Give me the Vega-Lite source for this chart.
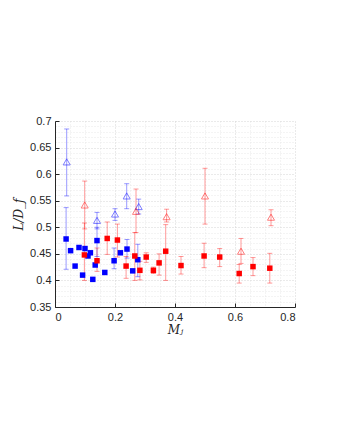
{
  "$schema": "https://vega.github.io/schema/vega-lite/v6.json",
  "width": 240,
  "height": 186,
  "autosize": "none",
  "padding": {"left": 55, "top": 121, "right": 44, "bottom": 132},
  "background": "white",
  "config": {
    "view": {"stroke": null},
    "axis": {
      "domainColor": "#262626",
      "domainWidth": 1,
      "tickColor": "#262626",
      "labelColor": "#262626",
      "labelFont": "Liberation Sans",
      "labelFontSize": 11,
      "titleFont": "DejaVu Serif",
      "titleFontStyle": "italic",
      "titleFontWeight": "normal",
      "titleFontSize": 12,
      "titleColor": "#262626",
      "gridDash": [1, 2],
      "labelOverlap": false
    }
  },
  "data": {
    "values": [
      {"group": "blue", "kind": "square", "x": 0.037, "y": 0.478, "lo": 0.421, "hi": 0.537},
      {"group": "blue", "kind": "square", "x": 0.052, "y": 0.456, "lo": null, "hi": null},
      {"group": "blue", "kind": "square", "x": 0.067, "y": 0.427, "lo": null, "hi": null},
      {"group": "blue", "kind": "square", "x": 0.080, "y": 0.462, "lo": null, "hi": null},
      {"group": "blue", "kind": "square", "x": 0.092, "y": 0.410, "lo": null, "hi": null},
      {"group": "blue", "kind": "square", "x": 0.100, "y": 0.460, "lo": null, "hi": null},
      {"group": "blue", "kind": "square", "x": 0.110, "y": 0.446, "lo": null, "hi": null},
      {"group": "blue", "kind": "square", "x": 0.118, "y": 0.452, "lo": null, "hi": null},
      {"group": "blue", "kind": "square", "x": 0.126, "y": 0.402, "lo": null, "hi": null},
      {"group": "blue", "kind": "square", "x": 0.134, "y": 0.429, "lo": null, "hi": null},
      {"group": "blue", "kind": "square", "x": 0.140, "y": 0.475, "lo": 0.445, "hi": 0.500},
      {"group": "blue", "kind": "square", "x": 0.166, "y": 0.415, "lo": null, "hi": null},
      {"group": "blue", "kind": "square", "x": 0.197, "y": 0.437, "lo": 0.422, "hi": 0.461},
      {"group": "blue", "kind": "square", "x": 0.218, "y": 0.452, "lo": null, "hi": null},
      {"group": "blue", "kind": "square", "x": 0.240, "y": 0.459, "lo": 0.442, "hi": 0.477},
      {"group": "blue", "kind": "square", "x": 0.259, "y": 0.418, "lo": null, "hi": null},
      {"group": "blue", "kind": "square", "x": 0.276, "y": 0.439, "lo": 0.407, "hi": 0.468},
      {"group": "red", "kind": "square", "x": 0.098, "y": 0.448, "lo": 0.400, "hi": 0.508},
      {"group": "red", "kind": "square", "x": 0.140, "y": 0.437, "lo": 0.417, "hi": 0.461},
      {"group": "red", "kind": "square", "x": 0.174, "y": 0.479, "lo": 0.449, "hi": 0.510},
      {"group": "red", "kind": "square", "x": 0.208, "y": 0.476, "lo": 0.444, "hi": 0.506},
      {"group": "red", "kind": "square", "x": 0.237, "y": 0.427, "lo": 0.404, "hi": 0.445},
      {"group": "red", "kind": "square", "x": 0.266, "y": 0.446, "lo": 0.400, "hi": 0.490},
      {"group": "red", "kind": "square", "x": 0.283, "y": 0.419, "lo": 0.401, "hi": 0.436},
      {"group": "red", "kind": "square", "x": 0.304, "y": 0.444, "lo": 0.434, "hi": 0.452},
      {"group": "red", "kind": "square", "x": 0.328, "y": 0.419, "lo": 0.413, "hi": 0.425},
      {"group": "red", "kind": "square", "x": 0.347, "y": 0.433, "lo": 0.410, "hi": 0.450},
      {"group": "red", "kind": "square", "x": 0.369, "y": 0.455, "lo": 0.400, "hi": 0.505},
      {"group": "red", "kind": "square", "x": 0.420, "y": 0.428, "lo": 0.412, "hi": 0.445},
      {"group": "red", "kind": "square", "x": 0.497, "y": 0.446, "lo": 0.424, "hi": 0.470},
      {"group": "red", "kind": "square", "x": 0.549, "y": 0.444, "lo": 0.426, "hi": 0.460},
      {"group": "red", "kind": "square", "x": 0.614, "y": 0.413, "lo": 0.395, "hi": 0.430},
      {"group": "red", "kind": "square", "x": 0.660, "y": 0.426, "lo": 0.409, "hi": 0.443},
      {"group": "red", "kind": "square", "x": 0.716, "y": 0.423, "lo": 0.395, "hi": 0.451},
      {"group": "blue", "kind": "triangle", "x": 0.039, "y": 0.623, "lo": 0.559, "hi": 0.685},
      {"group": "blue", "kind": "triangle", "x": 0.140, "y": 0.513, "lo": 0.497, "hi": 0.528},
      {"group": "blue", "kind": "triangle", "x": 0.200, "y": 0.525, "lo": 0.513, "hi": 0.535},
      {"group": "blue", "kind": "triangle", "x": 0.239, "y": 0.559, "lo": 0.535, "hi": 0.582},
      {"group": "blue", "kind": "triangle", "x": 0.279, "y": 0.539, "lo": 0.525, "hi": 0.553},
      {"group": "red", "kind": "triangle", "x": 0.099, "y": 0.542, "lo": 0.497, "hi": 0.587},
      {"group": "red", "kind": "triangle", "x": 0.270, "y": 0.530, "lo": 0.490, "hi": 0.572},
      {"group": "red", "kind": "triangle", "x": 0.372, "y": 0.520, "lo": 0.510, "hi": 0.534},
      {"group": "red", "kind": "triangle", "x": 0.500, "y": 0.559, "lo": 0.506, "hi": 0.611},
      {"group": "red", "kind": "triangle", "x": 0.620, "y": 0.455, "lo": 0.432, "hi": 0.479},
      {"group": "red", "kind": "triangle", "x": 0.720, "y": 0.519, "lo": 0.503, "hi": 0.533}
    ]
  },
  "encoding": {
    "x": {
      "field": "x",
      "type": "quantitative",
      "scale": {"domain": [0, 0.8], "nice": false, "zero": false},
      "axis": {
        "title": "Mⱼ",
        "values": [0, 0.05, 0.1, 0.15, 0.2, 0.25, 0.3, 0.35, 0.4, 0.45, 0.5, 0.55, 0.6, 0.65, 0.7, 0.75, 0.8],
        "labelExpr": "abs(datum.value*5-round(datum.value*5))<1e-6 ? format(datum.value,'~g') : ''",
        "labelOverlap": false,
        "tickOpacity": {"condition": {"test": "abs(datum.value*5-round(datum.value*5))<1e-6", "value": 1}, "value": 0},
        "grid": true,
        "gridColor": {"condition": {"test": "abs(datum.value*5-round(datum.value*5))<1e-6", "value": "#d4d4d4"}, "value": "#e8e8e8"},
        "tickSize": -4,
        "labelPadding": 8,
        "titlePadding": 2
      }
    },
    "color": {
      "field": "group",
      "type": "nominal",
      "scale": {"domain": ["blue", "red"], "range": ["#0000ff", "#ff0000"]},
      "legend": null
    }
  },
  "layer": [
    {
      "transform": [{"filter": "datum.lo != null"}],
      "mark": {"type": "rule", "opacity": 0.4, "strokeWidth": 1},
      "encoding": {
        "y": {
          "field": "lo", "type": "quantitative",
          "scale": {"domain": [0.35, 0.7], "nice": false, "zero": false},
          "axis": {"title": "L/D_f", "values": [0.35, 0.36, 0.37, 0.38, 0.39, 0.4, 0.41, 0.42, 0.43, 0.44, 0.45, 0.46, 0.47, 0.48, 0.49, 0.5, 0.51, 0.52, 0.53, 0.54, 0.55, 0.56, 0.57, 0.58, 0.59, 0.6, 0.61, 0.62, 0.63, 0.64, 0.65, 0.66, 0.67, 0.68, 0.69, 0.7], "labelExpr": "abs(datum.value*20-round(datum.value*20))<1e-6 ? format(datum.value,'~g') : ''", "labelOverlap": false, "tickOpacity": {"condition": {"test": "abs(datum.value*20-round(datum.value*20))<1e-6", "value": 1}, "value": 0}, "grid": true, "gridColor": {"condition": {"test": "abs(datum.value*20-round(datum.value*20))<1e-6", "value": "#d4d4d4"}, "value": "#e8e8e8"}, "tickSize": -4, "labelPadding": 8, "titlePadding": 4}
        },
        "y2": {"field": "hi"}
      }
    },
    {
      "transform": [{"filter": "datum.lo != null"}],
      "mark": {"type": "tick", "orient": "horizontal", "size": 5, "thickness": 1, "opacity": 0.4},
      "encoding": {
        "y": {
          "field": "lo", "type": "quantitative",
          "scale": {"domain": [0.35, 0.7], "nice": false, "zero": false},
          "axis": {"title": "L/D_f", "values": [0.35, 0.36, 0.37, 0.38, 0.39, 0.4, 0.41, 0.42, 0.43, 0.44, 0.45, 0.46, 0.47, 0.48, 0.49, 0.5, 0.51, 0.52, 0.53, 0.54, 0.55, 0.56, 0.57, 0.58, 0.59, 0.6, 0.61, 0.62, 0.63, 0.64, 0.65, 0.66, 0.67, 0.68, 0.69, 0.7], "labelExpr": "abs(datum.value*20-round(datum.value*20))<1e-6 ? format(datum.value,'~g') : ''", "labelOverlap": false, "tickOpacity": {"condition": {"test": "abs(datum.value*20-round(datum.value*20))<1e-6", "value": 1}, "value": 0}, "grid": true, "gridColor": {"condition": {"test": "abs(datum.value*20-round(datum.value*20))<1e-6", "value": "#d4d4d4"}, "value": "#e8e8e8"}, "tickSize": -4, "labelPadding": 8, "titlePadding": 4}
        }
      }
    },
    {
      "transform": [{"filter": "datum.lo != null"}],
      "mark": {"type": "tick", "orient": "horizontal", "size": 5, "thickness": 1, "opacity": 0.4},
      "encoding": {
        "y": {
          "field": "hi", "type": "quantitative",
          "scale": {"domain": [0.35, 0.7], "nice": false, "zero": false},
          "axis": {"title": "L/D_f", "values": [0.35, 0.36, 0.37, 0.38, 0.39, 0.4, 0.41, 0.42, 0.43, 0.44, 0.45, 0.46, 0.47, 0.48, 0.49, 0.5, 0.51, 0.52, 0.53, 0.54, 0.55, 0.56, 0.57, 0.58, 0.59, 0.6, 0.61, 0.62, 0.63, 0.64, 0.65, 0.66, 0.67, 0.68, 0.69, 0.7], "labelExpr": "abs(datum.value*20-round(datum.value*20))<1e-6 ? format(datum.value,'~g') : ''", "labelOverlap": false, "tickOpacity": {"condition": {"test": "abs(datum.value*20-round(datum.value*20))<1e-6", "value": 1}, "value": 0}, "grid": true, "gridColor": {"condition": {"test": "abs(datum.value*20-round(datum.value*20))<1e-6", "value": "#d4d4d4"}, "value": "#e8e8e8"}, "tickSize": -4, "labelPadding": 8, "titlePadding": 4}
        }
      }
    },
    {
      "transform": [{"filter": "datum.kind == 'triangle'"}],
      "mark": {"type": "point", "shape": "triangle-up", "filled": false, "size": 50, "strokeWidth": 1, "opacity": 0.5},
      "encoding": {
        "y": {
          "field": "y", "type": "quantitative",
          "scale": {"domain": [0.35, 0.7], "nice": false, "zero": false},
          "axis": {"title": "L/D_f", "values": [0.35, 0.36, 0.37, 0.38, 0.39, 0.4, 0.41, 0.42, 0.43, 0.44, 0.45, 0.46, 0.47, 0.48, 0.49, 0.5, 0.51, 0.52, 0.53, 0.54, 0.55, 0.56, 0.57, 0.58, 0.59, 0.6, 0.61, 0.62, 0.63, 0.64, 0.65, 0.66, 0.67, 0.68, 0.69, 0.7], "labelExpr": "abs(datum.value*20-round(datum.value*20))<1e-6 ? format(datum.value,'~g') : ''", "labelOverlap": false, "tickOpacity": {"condition": {"test": "abs(datum.value*20-round(datum.value*20))<1e-6", "value": 1}, "value": 0}, "grid": true, "gridColor": {"condition": {"test": "abs(datum.value*20-round(datum.value*20))<1e-6", "value": "#d4d4d4"}, "value": "#e8e8e8"}, "tickSize": -4, "labelPadding": 8, "titlePadding": 4}
        }
      }
    },
    {
      "transform": [{"filter": "datum.kind == 'square'"}],
      "mark": {"type": "point", "shape": "square", "filled": true, "size": 30, "opacity": 1},
      "encoding": {
        "y": {
          "field": "y", "type": "quantitative",
          "scale": {"domain": [0.35, 0.7], "nice": false, "zero": false},
          "axis": {"title": "L/D_f", "values": [0.35, 0.36, 0.37, 0.38, 0.39, 0.4, 0.41, 0.42, 0.43, 0.44, 0.45, 0.46, 0.47, 0.48, 0.49, 0.5, 0.51, 0.52, 0.53, 0.54, 0.55, 0.56, 0.57, 0.58, 0.59, 0.6, 0.61, 0.62, 0.63, 0.64, 0.65, 0.66, 0.67, 0.68, 0.69, 0.7], "labelExpr": "abs(datum.value*20-round(datum.value*20))<1e-6 ? format(datum.value,'~g') : ''", "labelOverlap": false, "tickOpacity": {"condition": {"test": "abs(datum.value*20-round(datum.value*20))<1e-6", "value": 1}, "value": 0}, "grid": true, "gridColor": {"condition": {"test": "abs(datum.value*20-round(datum.value*20))<1e-6", "value": "#d4d4d4"}, "value": "#e8e8e8"}, "tickSize": -4, "labelPadding": 8, "titlePadding": 4}
        }
      }
    }
  ]
}
